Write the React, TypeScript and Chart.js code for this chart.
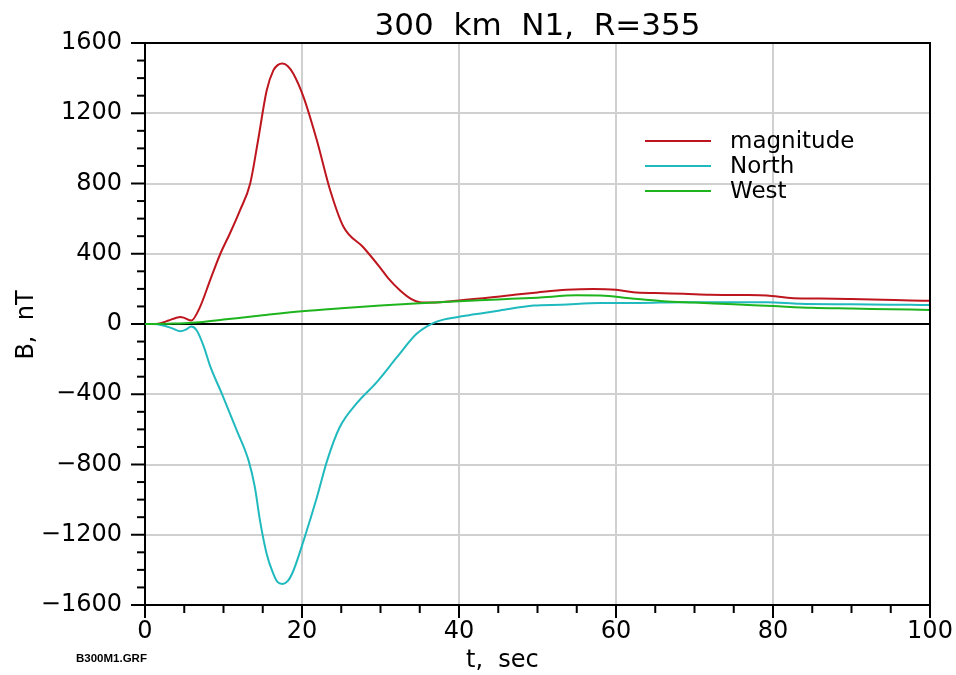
import React, { useEffect, useRef } from 'react';
import { Chart, registerables } from 'chart.js';
Chart.register(...registerables);

const TITLE = '300  km  N1,  R=355';
const X_LABEL = 't,  sec';
const Y_LABEL = 'B,  nT';
const FILE_TAG = 'B300M1.GRF';
const SERIES_NAMES = ['magnitude', 'North', 'West'];
const COLORS = ['rgb(190,22,30)', 'rgb(32,186,190)', 'rgb(30,180,30)'];

const magT = [0, 1, 2, 3, 4, 4.5, 5, 5.9, 7, 8.3, 9.6, 10.8, 12.1, 13.4, 14.4, 15.5, 16.35, 16.9, 17.5, 18.2, 18.9, 20.2, 21.9, 23.6, 25.3, 27.8, 29.9, 31, 32.5, 34, 35, 36.5, 40, 45.2, 50, 53.7, 57.1, 60, 62.2, 65, 68.6, 72, 76, 79.2, 82.6, 86, 90, 94, 97.5, 100];
const magV = [0, 0, 5, 20, 36, 40, 35, 20, 96, 250, 400, 514, 647, 800, 1045, 1330, 1444, 1474, 1483, 1468, 1425, 1292, 1045, 760, 552, 437, 324, 260, 191, 140, 124, 122, 134, 157, 180, 195, 200, 195, 181, 176, 172, 167, 165, 162, 147, 145, 142, 138, 134, 132];

const northT = [0, 1, 2.3, 3.5, 4.5, 5.2, 5.9, 6.6, 7.5, 8.3, 9.8, 11.7, 13.2, 14, 14.65, 15.5, 16.35, 16.9, 17.5, 18.2, 18.9, 20.2, 21.9, 23.2, 24.8, 26.9, 29.5, 32.1, 34.6, 36.7, 38, 39.7, 42, 45.2, 49.5, 53, 58, 63, 68.6, 75, 79.2, 83.4, 90, 97.5, 100];
const northV = [0, 0, -8, -25, -41, -32, -14, -37, -130, -240, -398, -607, -778, -930, -1120, -1309, -1423, -1470, -1480, -1463, -1405, -1234, -987, -778, -588, -455, -332, -189, -56, 5, 25, 39, 55, 77, 105, 110, 119, 120, 124, 124, 124, 115, 112, 109, 108];

const westT = [0, 3, 5, 7, 10, 15, 20, 25, 30, 35, 40, 45, 50, 55, 58, 62, 66, 70, 75, 80, 85, 90, 95, 100];
const westV = [0, 2, 4, 10, 25, 50, 73, 90, 105, 118, 130, 140, 150, 163, 162, 145, 130, 122, 112, 102, 92, 88, 84, 80];

const X_MIN = 0, X_MAX = 100, X_STEP = 20, X_MINOR = 5;
const Y_MIN = -1600, Y_MAX = 1600, Y_STEP = 400, Y_MINOR = 100;

const FONT = '"DejaVu Sans", sans-serif';

function pts(t: number[], v: number[]) {
  return t.map((x, i) => ({ x, y: v[i] }));
}

export default function App() {
  const ref = useRef<HTMLCanvasElement>(null);
  useEffect(() => {
    const decor = {
      id: 'decor',
      afterDraw(chart: any) {
        const ctx = chart.ctx as CanvasRenderingContext2D;
        const { left, right, top, bottom } = chart.chartArea;
        const xs = chart.scales.x, ys = chart.scales.y;
        ctx.save();
        ctx.strokeStyle = '#000';
        ctx.lineWidth = 2;
        ctx.beginPath();
        ctx.moveTo(left, top);
        ctx.lineTo(right, top);
        ctx.lineTo(right, bottom);
        ctx.stroke();
        for (let v = Y_MIN; v <= Y_MAX; v += Y_MINOR) {
          const y = ys.getPixelForValue(v);
          const len = v % Y_STEP === 0 ? 14 : 8;
          ctx.beginPath();
          ctx.moveTo(left - len, y);
          ctx.lineTo(left, y);
          ctx.stroke();
        }
        for (let t = X_MIN; t <= X_MAX; t += X_MINOR) {
          const x = xs.getPixelForValue(t);
          const len = t % X_STEP === 0 ? 13 : 8;
          ctx.beginPath();
          ctx.moveTo(x, bottom);
          ctx.lineTo(x, bottom + len);
          ctx.stroke();
        }
        ctx.fillStyle = '#000';
        ctx.textAlign = 'center';
        ctx.textBaseline = 'alphabetic';
        ctx.font = `31px ${FONT}`;
        ctx.fillText(TITLE, (left + right) / 2, 35);
        ctx.font = `24px ${FONT}`;
        ctx.textAlign = 'left';
        ctx.fillText(X_LABEL, 466, 667);
        ctx.save();
        ctx.translate(33, 325);
        ctx.rotate(-Math.PI / 2);
        ctx.textAlign = 'center';
        ctx.fillText(Y_LABEL, 0, 0);
        ctx.restore();
        ctx.font = `bold 11.5px "Liberation Sans", sans-serif`;
        ctx.textAlign = 'left';
        ctx.fillText(FILE_TAG, 76, 662);
        ctx.font = `23px ${FONT}`;
        ctx.textBaseline = 'middle';
        SERIES_NAMES.forEach((name, i) => {
          const y = 141 + i * 25;
          ctx.strokeStyle = COLORS[i];
          ctx.lineWidth = 2;
          ctx.beginPath();
          ctx.moveTo(645, y);
          ctx.lineTo(711, y);
          ctx.stroke();
          ctx.fillStyle = '#000';
          ctx.fillText(name, 730, y + 1);
        });
        ctx.restore();
      },
    };

    const mk = (i: number, data: any[]) => ({
      label: SERIES_NAMES[i],
      data,
      borderColor: COLORS[i],
      backgroundColor: COLORS[i],
      borderWidth: 2,
      pointRadius: 0,
      tension: 0.4,
      cubicInterpolationMode: 'monotone' as const,
      fill: false,
    });

    const chart = new Chart(ref.current!, {
      type: 'line',
      data: {
        datasets: [
          mk(2, pts(westT, westV)),
          mk(1, pts(northT, northV)),
          mk(0, pts(magT, magV)),
        ],
      },
      options: {
        animation: false,
        responsive: false,
        maintainAspectRatio: false,
        layout: { padding: { top: 43, right: 26, left: 0, bottom: 0 } },
        plugins: { legend: { display: false }, title: { display: false }, tooltip: { enabled: false } },
        scales: {
          x: {
            type: 'linear',
            min: X_MIN,
            max: X_MAX,
            afterFit(s: any) { s.height = 70; s.paddingLeft = 0; s.paddingRight = 0; },
            ticks: { stepSize: X_STEP, color: '#000', font: { family: FONT, size: 24 }, padding: 12, maxRotation: 0 },
            grid: { drawTicks: false, color: '#d0d0d0', lineWidth: 2 },
            border: { color: '#000', width: 2 },
          },
          y: {
            type: 'linear',
            min: Y_MIN,
            max: Y_MAX,
            afterFit(s: any) { s.width = 145; s.paddingTop = 0; s.paddingBottom = 0; },
            ticks: {
              stepSize: Y_STEP,
              color: '#000',
              font: { family: FONT, size: 24 },
              padding: 23,
              callback: (v: any) => (Number(v) < 0 ? '\u2212' + Math.abs(Number(v)) : String(v)),
            },
            grid: {
              drawTicks: false,
              color: (c: any) => (c.tick && c.tick.value === 0 ? '#000' : '#d0d0d0'),
              lineWidth: 2,
            },
            border: { color: '#000', width: 2 },
          },
        },
      },
      plugins: [decor],
    });
    return () => chart.destroy();
  }, []);
  return (
    <div style={{ position: 'absolute', left: 0, top: 0, width: 956, height: 675, background: '#fff' }}>
      <canvas ref={ref} width={956} height={675} style={{ width: 956, height: 675, display: 'block' }} />
    </div>
  );
}
